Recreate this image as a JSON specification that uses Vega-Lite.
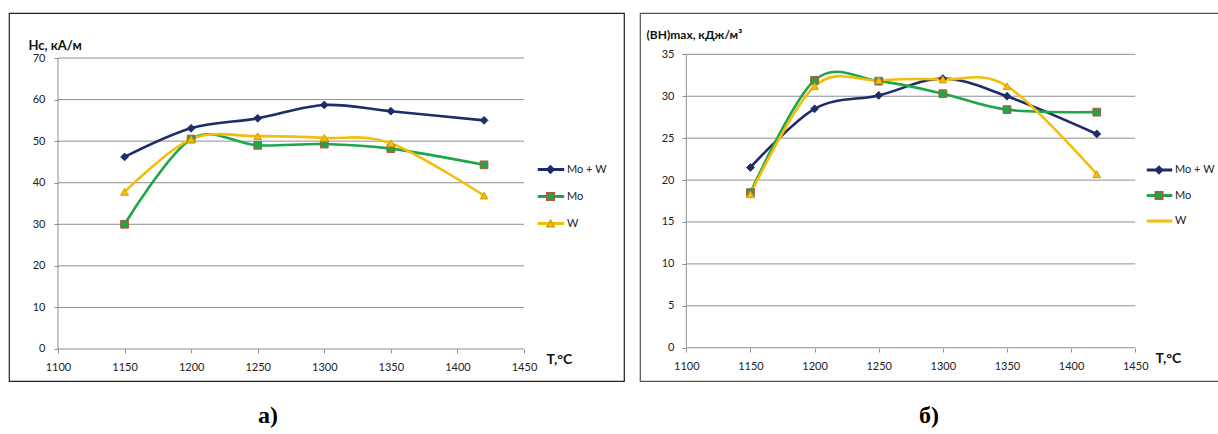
{
  "$schema": "https://vega.github.io/schema/vega-lite/v6.json",
  "padding": {"left": 8, "top": 12, "right": 0, "bottom": 0},
  "background": "white",
  "datasets": {
    "hc": [
      {"T": 1150, "value": 46.2, "series": "Mo + W"},
      {"T": 1200, "value": 53.1, "series": "Mo + W"},
      {"T": 1250, "value": 55.5, "series": "Mo + W"},
      {"T": 1300, "value": 58.7, "series": "Mo + W"},
      {"T": 1350, "value": 57.2, "series": "Mo + W"},
      {"T": 1420, "value": 55.0, "series": "Mo + W"},
      {"T": 1150, "value": 30.0, "series": "Mo"},
      {"T": 1200, "value": 50.5, "series": "Mo"},
      {"T": 1250, "value": 49.0, "series": "Mo"},
      {"T": 1300, "value": 49.3, "series": "Mo"},
      {"T": 1350, "value": 48.2, "series": "Mo"},
      {"T": 1420, "value": 44.3, "series": "Mo"},
      {"T": 1150, "value": 37.8, "series": "W"},
      {"T": 1200, "value": 50.5, "series": "W"},
      {"T": 1250, "value": 51.2, "series": "W"},
      {"T": 1300, "value": 50.8, "series": "W"},
      {"T": 1350, "value": 49.5, "series": "W"},
      {"T": 1420, "value": 36.9, "series": "W"}
    ],
    "bh": [
      {"T": 1150, "value": 21.5, "series": "Mo + W"},
      {"T": 1200, "value": 28.5, "series": "Mo + W"},
      {"T": 1250, "value": 30.1, "series": "Mo + W"},
      {"T": 1300, "value": 32.1, "series": "Mo + W"},
      {"T": 1350, "value": 30.0, "series": "Mo + W"},
      {"T": 1420, "value": 25.5, "series": "Mo + W"},
      {"T": 1150, "value": 18.5, "series": "Mo"},
      {"T": 1200, "value": 31.9, "series": "Mo"},
      {"T": 1250, "value": 31.8, "series": "Mo"},
      {"T": 1300, "value": 30.3, "series": "Mo"},
      {"T": 1350, "value": 28.4, "series": "Mo"},
      {"T": 1420, "value": 28.1, "series": "Mo"},
      {"T": 1150, "value": 18.3, "series": "W"},
      {"T": 1200, "value": 31.2, "series": "W"},
      {"T": 1250, "value": 31.9, "series": "W"},
      {"T": 1300, "value": 32.0, "series": "W"},
      {"T": 1350, "value": 31.2, "series": "W"},
      {"T": 1420, "value": 20.7, "series": "W"}
    ],
    "gridL": [{"v": 0}, {"v": 10}, {"v": 20}, {"v": 30}, {"v": 40}, {"v": 50}, {"v": 60}, {"v": 70}],
    "gridR": [{"v": 0}, {"v": 5}, {"v": 10}, {"v": 15}, {"v": 20}, {"v": 25}, {"v": 30}, {"v": 35}],
    "one": [{"k": 1}]
  },
  "config": {
    "font": "Lato",
    "concat": {"spacing": 14},
    "axis": {"labelFont": "Lato", "labelFontSize": 11, "labelColor": "#222", "tickColor": "#8f8f8f", "tickSize": 4, "titleFont": "Lato", "titleFontWeight": "bold", "titleColor": "#111"},
    "legend": {"labelFont": "Lato", "labelFontSize": 11, "labelColor": "#222"}
  },
  "hconcat": [
    {
      "width": 615,
      "height": 368,
      "view": {"stroke": "#222", "strokeWidth": 1.2},
      "title": {"text": "а)", "orient": "bottom", "anchor": "start", "frame": "group", "dx": 249, "offset": 23, "font": "Liberation Serif", "fontSize": 24, "fontWeight": "bold", "color": "#000"},
      "resolve": {"legend": {"color": "independent", "fill": "independent", "stroke": "independent", "shape": "independent"}},
      "layer": [
        {
          "data": {"name": "gridL"},
          "mark": {"type": "rule", "color": "#8f8f8f", "strokeWidth": 1},
          "encoding": {
            "x": {"datum": 1100, "type": "quantitative", "scale": {"domain": [1063.2, 1525.1], "nice": false, "zero": false}, "axis": {"values": [1100, 1150, 1200, 1250, 1300, 1350, 1400, 1450], "format": "d", "offset": -32, "domain": false, "grid": false, "labelPadding": 8, "title": "T,°C", "titleFontSize": 14, "titleAngle": 0, "titleAlign": "left", "titleBaseline": "middle", "titleX": 537, "titleY": 10}},
            "x2": {"datum": 1450},
            "y": {"field": "v", "type": "quantitative", "scale": {"domain": [-7.7, 80.83], "nice": false, "zero": false}, "axis": {"values": [0, 10, 20, 30, 40, 50, 60, 70], "offset": -49, "domain": false, "grid": false, "labelPadding": 9, "title": "Hc, кА/м", "titleFontSize": 13, "titleAngle": 0, "titleAlign": "left", "titleBaseline": "middle", "titleX": -30, "titleY": 32}}
          }
        },
        {
          "data": {"name": "one"},
          "mark": {"type": "rule", "color": "#8f8f8f", "strokeWidth": 1},
          "encoding": {
            "x": {"datum": 1100, "type": "quantitative"},
            "y": {"datum": 0, "type": "quantitative"},
            "y2": {"datum": 70}
          }
        },
        {
          "data": {"name": "hc"},
          "mark": {"type": "line", "interpolate": "cardinal", "strokeWidth": 2.6},
          "encoding": {
            "x": {"field": "T", "type": "quantitative"},
            "y": {"field": "value", "type": "quantitative"},
            "color": {"field": "series", "type": "nominal", "scale": {"domain": ["Mo + W", "Mo", "W"], "range": ["#1F2C6B", "#1DA64A", "#F5BD0A"]}, "legend": {"title": null, "orient": "none", "legendX": 527, "legendY": 144, "symbolType": "stroke", "symbolSize": 700, "symbolStrokeWidth": 3, "clipHeight": 25, "rowPadding": 2, "labelOffset": 1}}
          }
        },
        {
          "data": {"name": "hc"},
          "mark": {"type": "point", "filled": true, "size": 60, "strokeWidth": 1, "opacity": 1},
          "encoding": {
            "x": {"field": "T", "type": "quantitative"},
            "y": {"field": "value", "type": "quantitative"},
            "shape": {"field": "series", "type": "nominal", "scale": {"domain": ["Mo + W", "Mo", "W"], "range": ["diamond", "square", "triangle-up"]}, "legend": {"title": null, "orient": "none", "legendX": 536, "legendY": 144, "symbolSize": 55, "clipHeight": 25, "rowPadding": 2, "labelExpr": "''"}},
            "fill": {"field": "series", "type": "nominal", "scale": {"domain": ["Mo + W", "Mo", "W"], "range": ["#1F2C6B", "#1DA64A", "#F5BD0A"]}, "legend": null},
            "stroke": {"field": "series", "type": "nominal", "scale": {"domain": ["Mo + W", "Mo", "W"], "range": ["#1F2C6B", "#B5553C", "#CFA200"]}, "legend": null}
          }
        }
      ]
    },
    {
      "width": 588,
      "height": 368,
      "view": {"stroke": "#555", "strokeWidth": 1.2},
      "title": {"text": "б)", "orient": "bottom", "anchor": "start", "frame": "group", "dx": 279, "offset": 23, "font": "Liberation Serif", "fontSize": 24, "fontWeight": "bold", "color": "#000"},
      "resolve": {"legend": {"color": "independent", "fill": "independent", "stroke": "independent", "shape": "independent"}},
      "layer": [
        {
          "data": {"name": "gridR"},
          "mark": {"type": "rule", "color": "#8f8f8f", "strokeWidth": 1},
          "encoding": {
            "x": {"datum": 1100, "type": "quantitative", "scale": {"domain": [1063.9, 1522.3], "nice": false, "zero": false}, "axis": {"values": [1100, 1150, 1200, 1250, 1300, 1350, 1400, 1450], "format": "d", "offset": -33, "domain": false, "grid": false, "labelPadding": 8, "title": "T,°C", "titleFontSize": 14, "titleAngle": 0, "titleAlign": "left", "titleBaseline": "middle", "titleX": 515, "titleY": 10}},
            "x2": {"datum": 1450},
            "y": {"field": "v", "type": "quantitative", "scale": {"domain": [-3.97, 39.93], "nice": false, "zero": false}, "axis": {"values": [0, 5, 10, 15, 20, 25, 30, 35], "offset": -46, "domain": false, "grid": false, "labelPadding": 8, "title": "(BH)max, кДж/м³", "titleFontSize": 12, "titleAngle": 0, "titleAlign": "left", "titleBaseline": "middle", "titleX": -40, "titleY": 21}}
          }
        },
        {
          "data": {"name": "one"},
          "mark": {"type": "rule", "color": "#8f8f8f", "strokeWidth": 1},
          "encoding": {
            "x": {"datum": 1100, "type": "quantitative"},
            "y": {"datum": 0, "type": "quantitative"},
            "y2": {"datum": 35}
          }
        },
        {
          "data": {"name": "bh"},
          "mark": {"type": "line", "interpolate": "cardinal", "strokeWidth": 2.6},
          "encoding": {
            "x": {"field": "T", "type": "quantitative"},
            "y": {"field": "value", "type": "quantitative"},
            "color": {"field": "series", "type": "nominal", "scale": {"domain": ["Mo + W", "Mo", "W"], "range": ["#1F2C6B", "#1DA64A", "#F5BD0A"]}, "legend": {"title": null, "orient": "none", "legendX": 505, "legendY": 145, "symbolType": "stroke", "symbolSize": 650, "symbolStrokeWidth": 3, "clipHeight": 24, "rowPadding": 1.5, "labelOffset": 1}}
          }
        },
        {
          "data": {"name": "bh"},
          "mark": {"type": "point", "filled": true, "size": 60, "strokeWidth": 1, "opacity": 1},
          "encoding": {
            "x": {"field": "T", "type": "quantitative"},
            "y": {"field": "value", "type": "quantitative"},
            "shape": {"field": "series", "type": "nominal", "scale": {"domain": ["Mo + W", "Mo", "W"], "range": ["diamond", "square", "triangle-up"]}, "legend": {"title": null, "orient": "none", "legendX": 513.5, "legendY": 145, "symbolSize": 55, "clipHeight": 24, "rowPadding": 1.5, "labelExpr": "''", "values": ["Mo + W", "Mo"]}},
            "fill": {"field": "series", "type": "nominal", "scale": {"domain": ["Mo + W", "Mo", "W"], "range": ["#1F2C6B", "#1DA64A", "#F5BD0A"]}, "legend": null},
            "stroke": {"field": "series", "type": "nominal", "scale": {"domain": ["Mo + W", "Mo", "W"], "range": ["#1F2C6B", "#2E8B57", "#CFA200"]}, "legend": null}
          }
        }
      ]
    }
  ]
}
